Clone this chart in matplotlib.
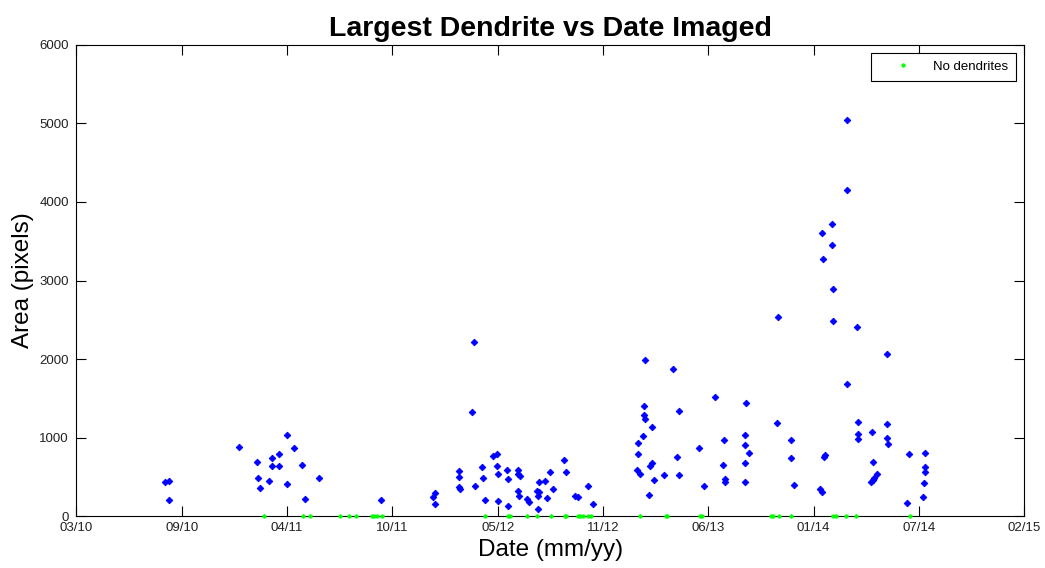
import datetime as dt

import matplotlib
matplotlib.use("Agg")
import matplotlib.dates as mdates
import matplotlib.pyplot as plt

plt.rcParams["font.family"] = ["Liberation Sans", "DejaVu Sans"]

# imaged samples with a dendrite: date and area of the largest one
dendrite_dates = [
    "2010-08-20", "2010-08-28", "2010-08-27", "2011-01-07", "2011-02-10",
    "2011-02-12", "2011-02-17", "2011-03-06", "2011-03-12", "2011-03-12",
    "2011-03-25", "2011-03-25", "2011-04-09", "2011-04-09", "2011-04-22",
    "2011-05-07", "2011-05-13", "2011-06-08", "2011-10-04", "2012-01-14",
    "2012-01-11", "2012-01-14", "2012-03-01", "2012-03-01", "2012-03-01",
    "2012-03-03", "2012-03-25", "2012-03-29", "2012-03-31", "2012-04-13",
    "2012-04-15", "2012-04-19", "2012-05-04", "2012-05-11", "2012-05-11",
    "2012-05-13", "2012-05-13", "2012-05-31", "2012-06-02", "2012-06-02",
    "2012-06-21", "2012-06-21", "2012-06-24", "2012-06-21", "2012-06-23",
    "2012-07-08", "2012-07-11", "2012-07-27", "2012-07-28", "2012-07-31",
    "2012-07-28", "2012-07-31", "2012-08-11", "2012-08-15", "2012-08-20",
    "2012-08-26", "2012-09-15", "2012-09-19", "2012-10-06", "2012-10-13",
    "2012-11-01", "2012-11-10", "2013-02-01", "2013-02-03", "2013-02-04",
    "2013-02-08", "2013-02-12", "2013-02-14", "2013-02-14", "2013-02-16",
    "2013-02-16", "2013-02-25", "2013-02-27", "2013-03-02", "2013-03-02",
    "2013-03-06", "2013-03-25", "2013-04-11", "2013-04-18", "2013-04-22",
    "2013-04-22", "2013-05-31", "2013-06-09", "2013-06-29", "2013-07-15",
    "2013-07-17", "2013-07-19", "2013-07-19", "2013-08-25", "2013-08-25",
    "2013-08-25", "2013-08-25", "2013-08-27", "2013-09-03", "2013-10-26",
    "2013-10-27", "2013-11-21", "2013-11-21", "2013-11-27", "2014-01-15",
    "2014-01-18", "2014-01-18", "2014-01-20", "2014-01-22", "2014-01-25",
    "2014-02-06", "2014-02-06", "2014-02-09", "2014-02-09", "2014-03-08",
    "2014-03-08", "2014-03-08", "2014-03-26", "2014-03-28", "2014-03-28",
    "2014-03-28", "2014-04-22", "2014-04-23", "2014-04-25", "2014-04-25",
    "2014-04-27", "2014-05-03", "2014-05-23", "2014-05-23", "2014-05-23",
    "2014-05-25", "2014-06-30", "2014-07-03", "2014-07-29", "2014-07-31",
    "2014-08-02", "2014-08-02", "2014-08-02",
]
dendrite_area = [
    429, 446, 200, 879, 688,
    488, 361, 446, 735, 633,
    790, 633, 1036, 404, 862,
    646, 217, 488, 200, 289,
    238, 157, 577, 501, 373,
    344, 1325, 2217, 386, 620,
    488, 200, 764, 794, 633,
    531, 187, 586, 471, 131,
    590, 531, 513, 318, 259,
    217, 182, 318, 259, 306,
    85, 429, 446, 229, 561,
    344, 717, 561, 259, 246,
    386, 157, 582, 790, 934,
    531, 1023, 1398, 1283, 1236,
    1987, 271, 633, 679, 1134,
    459, 519, 1873, 748, 519,
    1342, 862, 386, 1512, 646,
    964, 468, 429, 1036, 905,
    675, 429, 1443, 803, 1181,
    2535, 964, 735, 399, 344,
    302, 3602, 3270, 748, 777,
    3716, 3456, 2896, 2480, 5045,
    4150, 1686, 2404, 1198, 1041,
    977, 429, 1066, 692, 459,
    488, 531, 2060, 1168, 994,
    921, 170, 790, 246, 417,
    806, 620, 561,
]

# imaged samples without dendrites (area 0)
empty_dates = [
    "2011-02-25", "2011-05-10", "2011-05-22", "2011-07-19", "2011-08-05",
    "2011-08-18", "2011-09-17", "2011-09-21", "2011-09-27", "2011-10-07",
    "2012-04-18", "2012-06-02", "2012-06-06", "2012-07-07", "2012-07-26",
    "2012-08-22", "2012-09-17", "2012-09-19", "2012-10-12", "2012-10-17",
    "2012-10-22", "2012-11-01", "2012-11-06", "2013-02-08", "2013-03-29",
    "2013-03-31", "2013-06-01", "2013-06-04", "2013-10-13", "2013-10-17",
    "2013-10-29", "2013-11-21", "2014-02-08", "2014-02-14", "2014-03-06",
    "2014-03-25", "2014-07-05",
]
empty_area = [0] * len(empty_dates)

x_start = dt.date(2010, 3, 5)
tick_step_days = 200
n_ticks = 10


def to_num(dates):
    return [mdates.date2num(dt.date.fromisoformat(d)) for d in dates]


fig = plt.figure(figsize=(10.45, 5.68), dpi=100)
ax = fig.add_axes([0.0732, 0.0915, 0.9070, 0.8293])

ax.plot(to_num(dendrite_dates), dendrite_area, linestyle="none", marker="D",
        markersize=3.4, color="#0000ff", markeredgewidth=0.6)
ax.plot(to_num(empty_dates), empty_area, linestyle="none", marker="o",
        markersize=2.6, color="#00ff00", markeredgewidth=0.4,
        label="No dendrites", clip_on=False, zorder=3)

x0 = mdates.date2num(x_start)
ticks = [x0 + k * tick_step_days for k in range(n_ticks)]
ax.set_xlim(ticks[0], ticks[-1])
ax.set_xticks(ticks)
ax.xaxis.set_major_formatter(mdates.DateFormatter("%m/%y"))
ax.set_ylim(0, 6000)
ax.set_yticks(range(0, 6001, 1000))

ax.tick_params(direction="in", length=7, width=0.8, top=True, right=True,
               labelsize=9.5, labelcolor="#222222")
ax.tick_params(axis="y", pad=5.5)
ax.tick_params(axis="x", pad=4.5)
for s in ax.spines.values():
    s.set_linewidth(0.8)

ax.set_title("Largest Dendrite vs Date Imaged", fontsize=20.5, fontweight="bold", pad=6.5)
ax.set_xlabel("Date (mm/yy)", fontsize=17.5, labelpad=3.5)
ax.set_ylabel("Area (pixels)", fontsize=17.5, labelpad=4)

leg = ax.legend(loc="upper right", fontsize=9.5, fancybox=False, framealpha=1,
                edgecolor="black", borderpad=0.6, handletextpad=0.5,
                borderaxespad=0.6, markerscale=1.0, handlelength=3.65)
leg.get_frame().set_linewidth(0.8)

fig.savefig("out.png", dpi=100)
